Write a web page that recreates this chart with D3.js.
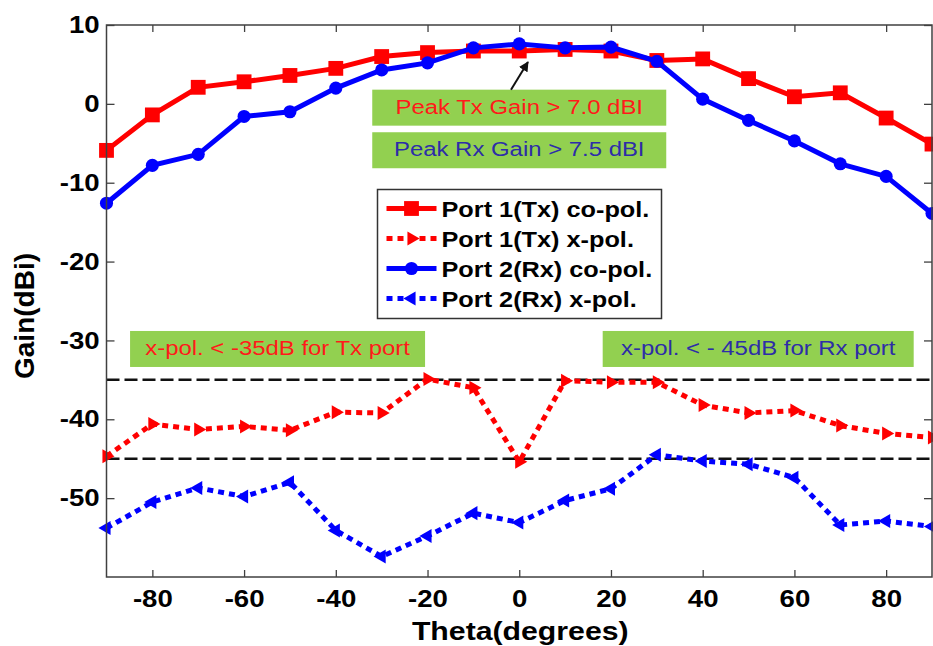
<!DOCTYPE html>
<html>
<head>
<meta charset="utf-8">
<script src="https://d3js.org/d3.v7.min.js"></script>
<style>
  body { margin: 0; background: #fff; }
  text { font-family: "Liberation Sans", Arial, sans-serif; }
</style>
</head>
<body>
<script>
// data
var theta = [-90,-80,-70,-60,-50,-40,-30,-20,-10,0,10,20,30,40,50,60,70,80,90];
var txCoPol = [-5.9,-1.4,2.1,2.8,3.6,4.5,6.0,6.5,6.7,6.7,6.9,6.7,5.5,5.7,3.2,0.9,1.4,-1.8,-5.1];
var rxCoPol = [-12.6,-7.8,-6.4,-1.6,-1.0,2.0,4.3,5.2,7.1,7.6,7.1,7.2,5.4,0.6,-2.1,-4.7,-7.6,-9.2,-13.9];
var txXPol = [-44.7,-40.6,-41.3,-40.9,-41.4,-39.1,-39.2,-34.9,-36.0,-45.4,-35.1,-35.3,-35.3,-38.2,-39.2,-38.9,-40.8,-41.8,-42.3];
var rxXPol = [-53.8,-50.5,-48.7,-49.8,-48.0,-54.1,-57.4,-54.8,-51.9,-53.1,-50.3,-48.8,-44.5,-45.3,-45.7,-47.4,-53.4,-52.9,-53.6];
var xTicks = [-80,-60,-40,-20,0,20,40,60,80];
var yTicks = [10,0,-10,-20,-30,-40,-50];
var limitLines = [-35,-45];
var seriesNames = ["Port 1(Tx) co-pol.","Port 1(Tx) x-pol.","Port 2(Rx) co-pol.","Port 2(Rx) x-pol."];

var W = 933, H = 646;
var SX = 1.15; // text in the source is a bit wide
var red = "#ff0000", blue = "#0000ff", green = "#92d050";

var x = d3.scaleLinear().domain([-90, 90]).range([106.5, 932]);
var y = d3.scaleLinear().domain([-60, 10]).range([577, 25]);

var svg = d3.select("body").append("svg")
    .attr("width", W).attr("height", H);

svg.append("defs").append("marker")
    .attr("id", "arrow")
    .attr("viewBox", "0 0 10 10")
    .attr("refX", 9).attr("refY", 5)
    .attr("markerWidth", 5).attr("markerHeight", 5)
    .attr("orient", "auto")
  .append("path").attr("d", "M0,0L10,5L0,10z").attr("fill", "#111");

// axes, ticks pointing inwards
function styleAxis(g, showText) {
  g.select(".domain").remove();
  g.selectAll(".tick line").attr("stroke", "#404040").attr("stroke-width", 1.3);
  g.attr("font-family", "Liberation Sans, Arial, sans-serif")
   .attr("font-size", 24).attr("font-weight", "bold");
  if (showText) g.selectAll(".tick text").attr("fill", "#000").attr("transform", "scale(" + SX + ",1)");
  else g.selectAll(".tick text").remove();
}

svg.append("g").attr("transform", "translate(0," + y(-60) + ")")
  .call(d3.axisBottom(x).tickValues(xTicks).tickSize(-7).tickPadding(13).tickFormat(function(d){ return String(d); }))
  .call(function(g){ styleAxis(g, true); });
svg.append("g").attr("transform", "translate(0," + y(10) + ")")
  .call(d3.axisTop(x).tickValues(xTicks).tickSize(-7))
  .call(function(g){ styleAxis(g, false); });
svg.append("g").attr("transform", "translate(" + x(-90) + ",0)")
  .call(d3.axisLeft(y).tickValues(yTicks).tickSize(-8).tickPadding(6).tickFormat(function(d){ return String(d); }))
  .call(function(g){ styleAxis(g, true); });
svg.append("g").attr("transform", "translate(" + x(90) + ",0)")
  .call(d3.axisRight(y).tickValues(yTicks).tickSize(-8))
  .call(function(g){ styleAxis(g, false); });

// limit lines
svg.selectAll(".limit").data(limitLines).enter().append("line")
  .attr("class", "limit")
  .attr("x1", x(-90)).attr("x2", x(90))
  .attr("y1", function(d){ return y(d); }).attr("y2", function(d){ return y(d); })
  .attr("stroke", "#111").attr("stroke-width", 2.5)
  .attr("stroke-dasharray", "13,5");

var series = [
  { name: seriesNames[0], vals: txCoPol, color: red, dash: null, sym: d3.symbolSquare, size: 220, rot: 0 },
  { name: seriesNames[1], vals: txXPol, color: red, dash: "6,5", sym: d3.symbolTriangle, size: 85, rot: 90 },
  { name: seriesNames[2], vals: rxCoPol, color: blue, dash: null, sym: d3.symbolCircle, size: 135, rot: 0 },
  { name: seriesNames[3], vals: rxXPol, color: blue, dash: "6,5", sym: d3.symbolTriangle, size: 85, rot: -90 }
];

var line = d3.line()
  .x(function(d){ return x(d[0]); })
  .y(function(d){ return y(d[1]); });

// draw x-pol first, then Tx co-pol, then Rx co-pol on top
[1, 3, 0, 2].forEach(function(i) {
  var s = series[i];
  var pts = theta.map(function(t, j){ return [t, s.vals[j]]; });
  svg.append("path")
    .attr("d", line(pts))
    .attr("fill", "none")
    .attr("stroke", s.color)
    .attr("stroke-width", 5)
    .attr("stroke-dasharray", s.dash);
  svg.selectAll(null).data(pts).enter().append("path")
    .attr("d", d3.symbol().type(s.sym).size(s.size))
    .attr("transform", function(d){ return "translate(" + x(d[0]) + "," + y(d[1]) + ") rotate(" + s.rot + ")"; })
    .attr("fill", s.color);
});

// frame
svg.append("rect")
  .attr("x", x(-90)).attr("y", y(10))
  .attr("width", x(90) - x(-90)).attr("height", y(-60) - y(10))
  .attr("fill", "none").attr("stroke", "#404040").attr("stroke-width", 1.5);

// green annotation boxes: centre theta, top gain, width px
var notes = [
  { cx: 0, top: 1.8, w: 294, text: "Peak Tx Gain > 7.0 dBI", color: "#ff1a1a" },
  { cx: 0, top: -3.6, w: 294, text: "Peak Rx Gain > 7.5 dBI", color: "#2d2da8" },
  { cx: -52.7, top: -28.8, w: 295, text: "x-pol. < -35dB for Tx port", color: "#ff1a1a" },
  { cx: 52.1, top: -28.8, w: 311, text: "x-pol. < - 45dB for Rx port", color: "#2d2da8" }
];
notes.forEach(function(n) {
  var cx = x(n.cx), ty = y(n.top);
  svg.append("rect")
    .attr("x", cx - n.w / 2).attr("y", ty)
    .attr("width", n.w).attr("height", 36)
    .attr("fill", green);
  svg.append("text")
    .attr("transform", "translate(" + cx + "," + (ty + 24) + ") scale(" + SX + ",1)")
    .attr("text-anchor", "middle")
    .attr("font-size", 20.8)
    .attr("fill", n.color)
    .text(n.text);
});

// arrow to the peak
svg.append("line")
  .attr("x1", x(-1.8)).attr("y1", y(1.8))
  .attr("x2", x(1.9)).attr("y2", y(5.3))
  .attr("stroke", "#111").attr("stroke-width", 2)
  .attr("marker-end", "url(#arrow)");

// legend
var lg = svg.append("g").attr("transform", "translate(377.5,189.5)");
lg.append("rect").attr("width", 284).attr("height", 129)
  .attr("fill", "#fff").attr("stroke", "#333").attr("stroke-width", 1.5);
series.forEach(function(s, i) {
  var row = lg.append("g").attr("transform", "translate(0," + (19 + i * 30) + ")");
  row.append("line").attr("x1", 9).attr("x2", 59)
    .attr("stroke", s.color).attr("stroke-width", 5)
    .attr("stroke-dasharray", s.dash);
  row.append("path")
    .attr("d", d3.symbol().type(s.sym).size(s.size))
    .attr("transform", "translate(34,0) rotate(" + s.rot + ")")
    .attr("fill", s.color);
  row.append("text")
    .attr("transform", "translate(64,8) scale(" + SX + ",1)")
    .attr("font-size", 22).attr("font-weight", "bold")
    .text(s.name);
});

// axis titles
svg.append("text")
  .attr("transform", "translate(" + (x(0) + 1) + ",640) scale(" + SX + ",1)")
  .attr("text-anchor", "middle")
  .attr("font-size", 26.3).attr("font-weight", "bold")
  .text("Theta(degrees)");
svg.append("text")
  .attr("transform", "translate(33.5,316) rotate(-90)")
  .attr("text-anchor", "middle")
  .attr("font-size", 28).attr("font-weight", "bold")
  .text("Gain(dBi)");
</script>
</body>
</html>
